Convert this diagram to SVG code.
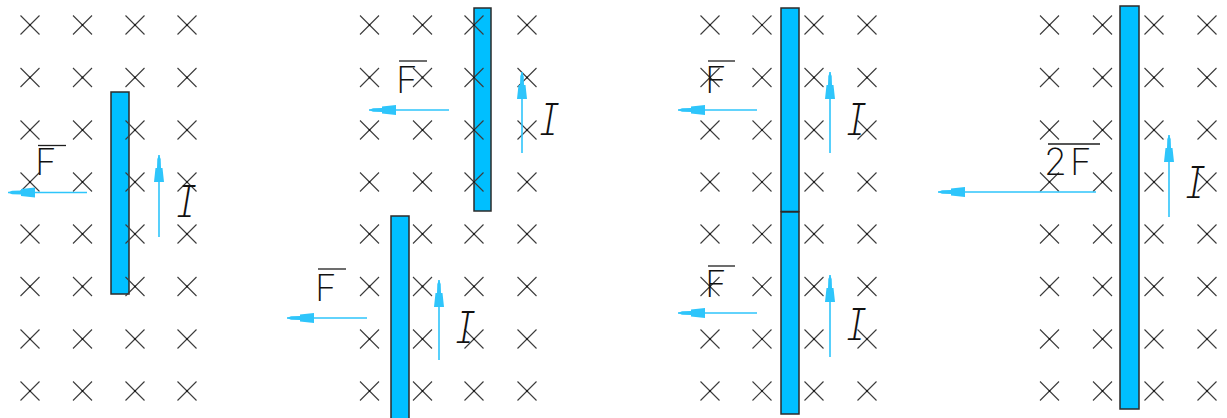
<svg xmlns="http://www.w3.org/2000/svg" xmlns:xlink="http://www.w3.org/1999/xlink" width="1227" height="418" viewBox="0 0 1227 418">
<style>
.bar{fill:#00bfff;stroke:#2b2b2b;stroke-width:1.5}
.cx{stroke:#3c3c3c;stroke-width:1.1;fill:none}
.dot{fill:#111}
.arr{stroke:#2ec5fb;stroke-width:1.6;fill:none;marker-end:url(#ah)}
.F{font-family:Inter,"Noto Sans","DejaVu Sans",sans-serif;font-weight:200;font-size:37px;fill:#111}
.I{font-family:Inter,"Noto Sans","DejaVu Sans",sans-serif;font-weight:200;font-style:italic;font-size:44px;fill:#111;text-anchor:middle;font-feature-settings:"cv08" 1}
.ov{stroke:#1e1e1e;stroke-width:1.3}
</style>
<defs>
<marker id="ah" markerUnits="userSpaceOnUse" markerWidth="30" markerHeight="12" refX="27" refY="5" orient="auto" overflow="visible">
<path d="M0,0 L14,1.5 L14,3 L23,3.3 L27,5 L23,6.7 L14,7 L14,8.5 L0,10 Z" fill="#2ec5fb"/>
</marker>
<g id="x"><path class="cx" d="M-9.5,-9.5 L9.5,9.5 M-9.5,9.5 L9.5,-9.5"/><circle class="dot" r="1"/></g>
<g id="col">
<use href="#x" y="25"/><use href="#x" y="77.5"/><use href="#x" y="130"/><use href="#x" y="182"/>
<use href="#x" y="234"/><use href="#x" y="286.5"/><use href="#x" y="339"/><use href="#x" y="391"/>
</g>
</defs>
<rect width="1227" height="418" fill="#ffffff"/>

<g id="wires">
<g id="wire-1"><rect class="bar" x="111" y="92" width="18" height="202"/></g>
<g id="wire-2a"><rect class="bar" x="474" y="8" width="17" height="203"/></g>
<g id="wire-2b"><rect class="bar" x="391" y="216" width="18" height="210"/></g>
<g id="wire-3a"><rect class="bar" x="781" y="8" width="18" height="203.5"/></g>
<g id="wire-3b"><rect class="bar" x="781" y="212" width="18" height="202"/></g>
<g id="wire-4"><rect class="bar" x="1120" y="6" width="19" height="403"/></g>
</g>

<g id="field">
<use href="#col" x="30"/><use href="#col" x="82.5"/><use href="#col" x="135"/><use href="#col" x="187"/>
<use href="#col" x="369.5"/><use href="#col" x="422.5"/><use href="#col" x="474"/><use href="#col" x="527"/>
<use href="#col" x="710"/><use href="#col" x="762"/><use href="#col" x="814"/><use href="#col" x="867"/>
<use href="#col" x="1049.5"/><use href="#col" x="1102.5"/><use href="#col" x="1154"/><use href="#col" x="1207"/>
</g>

<g id="connectors">
<line class="arr" x1="87" y1="192.5" x2="8" y2="192.5"/>
<line class="arr" x1="159" y1="237" x2="159" y2="155"/>
<line class="arr" x1="449" y1="110" x2="369" y2="110"/>
<line class="arr" x1="522" y1="153" x2="522" y2="72"/>
<line class="arr" x1="367" y1="318" x2="287" y2="318"/>
<line class="arr" x1="439" y1="360" x2="439" y2="280"/>
<line class="arr" x1="757" y1="110" x2="678" y2="110"/>
<line class="arr" x1="830" y1="153" x2="830" y2="72"/>
<line class="arr" x1="757" y1="313" x2="678" y2="313"/>
<line class="arr" x1="830" y1="357" x2="830" y2="275"/>
<line class="arr" x1="1096" y1="192" x2="938" y2="192"/>
<line class="arr" x1="1169" y1="217" x2="1169" y2="135"/>
</g>

<g id="label-F1"><line class="ov" x1="38" y1="145.5" x2="66" y2="145.5"/><text class="F" x="35" y="175">F</text></g>
<g id="label-F2a"><line class="ov" x1="399" y1="61" x2="427" y2="61"/><text class="F" x="396" y="93">F</text></g>
<g id="label-F2b"><line class="ov" x1="318" y1="269" x2="346" y2="269"/><text class="F" x="315" y="301">F</text></g>
<g id="label-F3a"><line class="ov" x1="708" y1="61" x2="735" y2="61"/><text class="F" x="705" y="93">F</text></g>
<g id="label-F3b"><line class="ov" x1="708" y1="266" x2="735" y2="266"/><text class="F" x="705" y="297">F</text></g>
<g id="label-F4"><line class="ov" x1="1048" y1="144" x2="1100" y2="144"/><text class="F" x="1044 1070" y="175">2F</text></g>

<g id="label-I1"><text class="I" x="186" y="217">I</text></g>
<g id="label-I2a"><text class="I" x="549" y="135">I</text></g>
<g id="label-I2b"><text class="I" x="465" y="343">I</text></g>
<g id="label-I3a"><text class="I" x="856" y="135">I</text></g>
<g id="label-I3b"><text class="I" x="856" y="340">I</text></g>
<g id="label-I4"><text class="I" x="1195" y="198">I</text></g>
</svg>
